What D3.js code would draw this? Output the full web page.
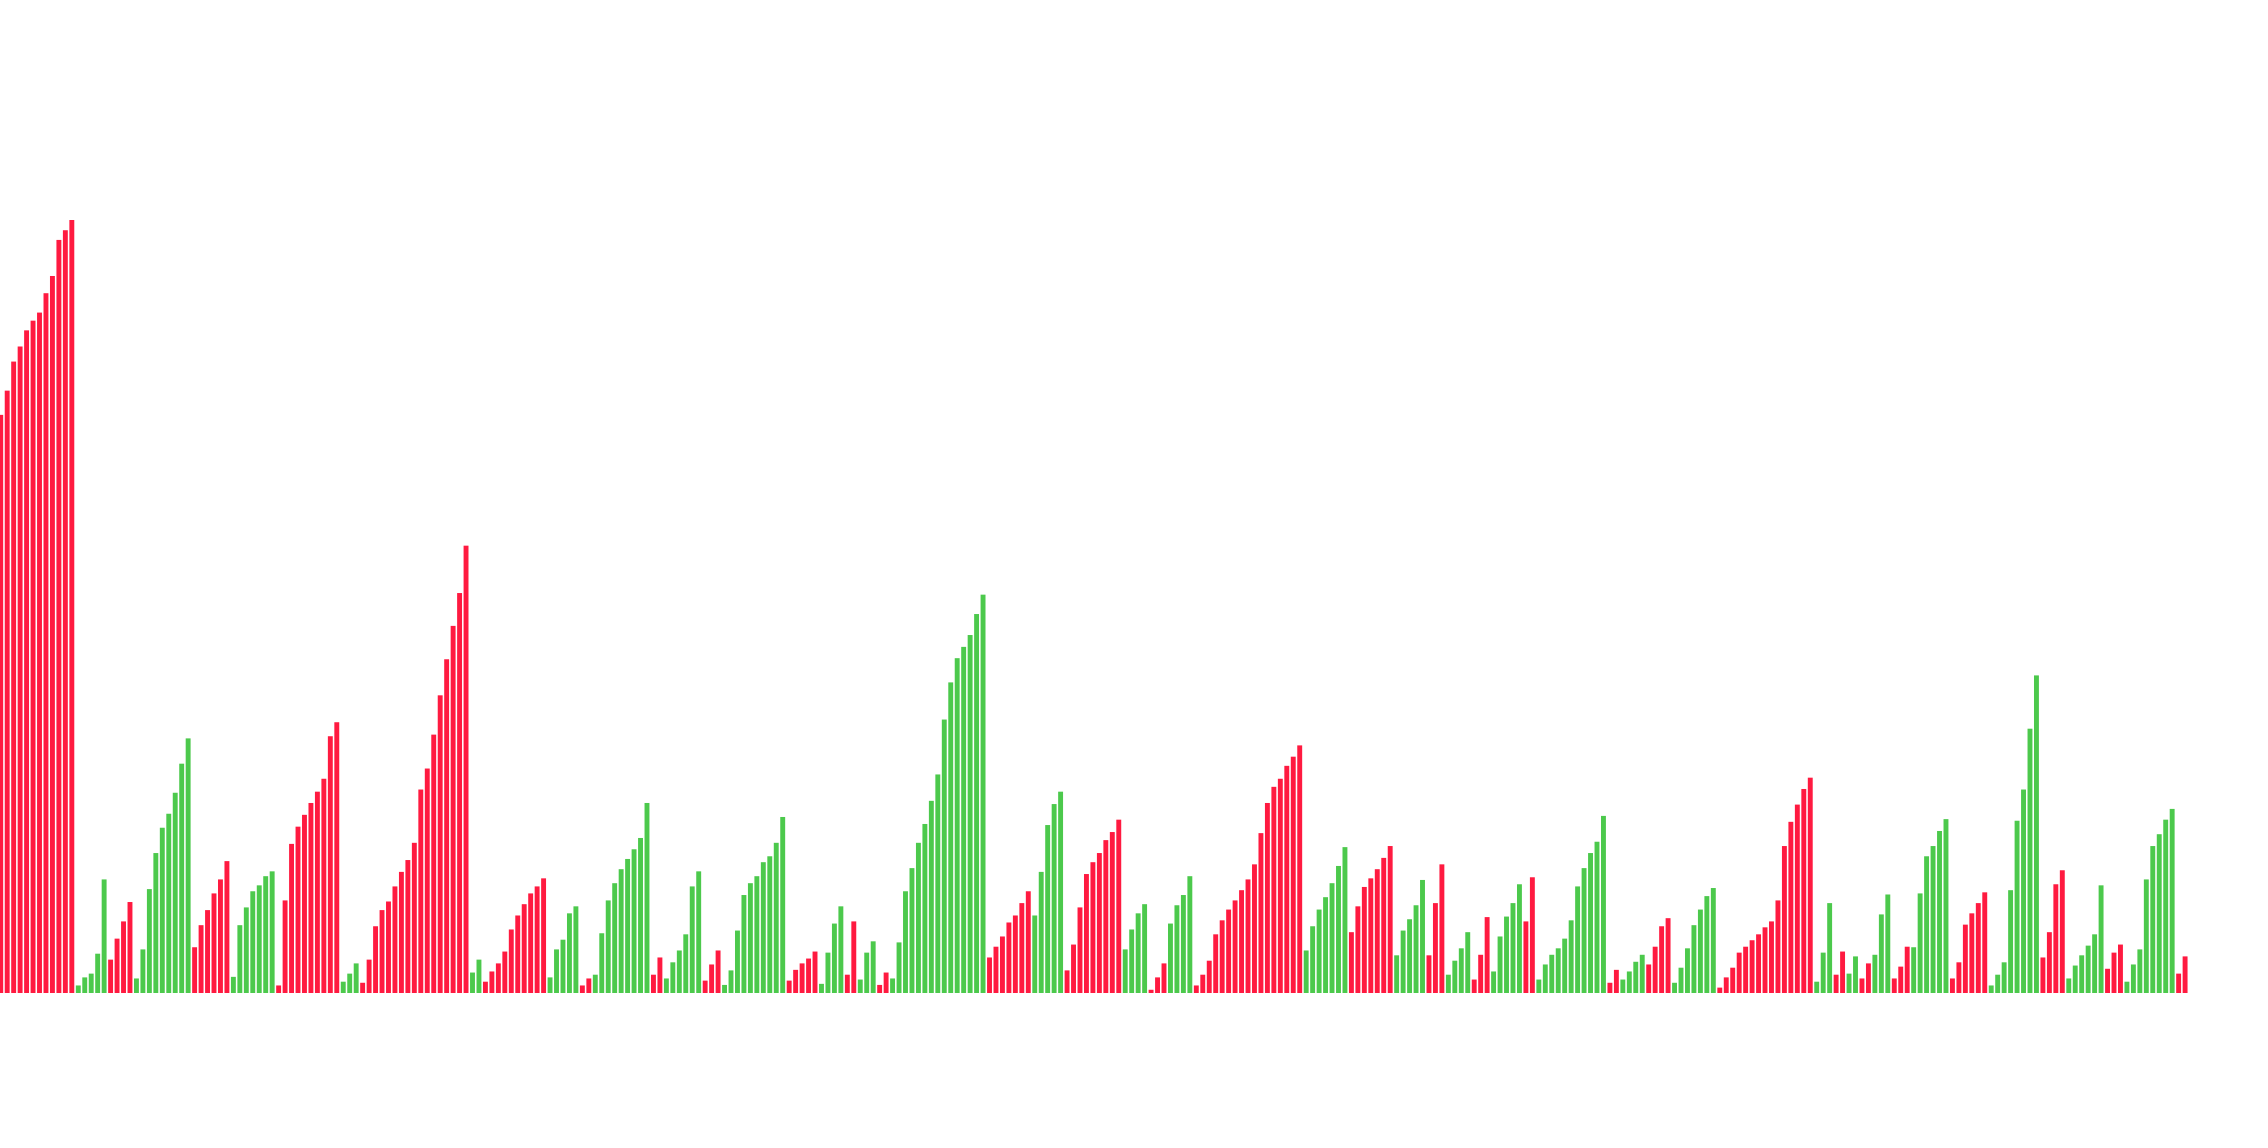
<!DOCTYPE html>
<html>
<head>
<meta charset="utf-8">
<script src="https://cdn.jsdelivr.net/npm/d3@7/dist/d3.min.js"></script>
<style>
  html, body { margin: 0; padding: 0; background: #ffffff; }
  svg { display: block; }
</style>
</head>
<body>
<svg id="chart" width="2268" height="1148"></svg>
<script>
// ---- data (bar heights, arbitrary units) ----
const values = [
  1074,1119,1173,1201,1231,1249,1264,1300,1332,1399,
  1417,1436,14,29,36,73,211,62,101,133,
  169,27,81,193,260,307,333,372,426,473,
  85,126,154,185,211,245,30,126,159,189,
  200,217,226,14,172,277,309,331,353,374,
  398,477,503,21,36,55,19,62,124,154,
  170,198,225,247,279,378,417,480,553,620,
  682,743,831,38,62,21,40,55,77,118,
  144,165,185,198,213,29,81,99,148,161,
  14,27,34,111,172,204,230,249,267,288,
  353,34,66,27,57,79,109,198,226,23,
  53,79,15,42,116,182,204,217,243,254,
  279,327,23,43,55,64,77,17,75,129,
  161,34,133,25,75,96,15,38,27,94,
  189,232,279,314,357,406,508,577,622,643,
  665,704,740,66,86,105,131,144,167,189,
  144,225,312,351,374,42,90,159,221,243,
  260,284,299,322,81,118,148,165,6,29,
  55,129,163,182,217,14,34,60,109,135,
  155,172,191,211,239,297,353,383,398,422,
  439,460,79,124,155,178,204,236,271,113,
  161,197,213,230,251,273,70,116,137,163,
  210,70,167,239,34,60,83,113,25,71,
  141,40,105,142,167,202,133,215,25,53,
  71,83,101,135,198,232,260,281,329,19,
  43,25,40,58,71,53,86,124,139,19,
  47,83,126,155,180,195,10,29,47,75,
  86,98,109,122,133,172,273,318,350,379,
  400,21,75,167,34,77,36,68,27,55,
  71,146,183,27,49,86,85,185,254,273,
  301,323,27,57,127,148,167,187,14,34,
  57,191,320,378,491,590,66,113,202,228,
  27,51,70,88,109,200,45,75,90,21,
  53,81,211,273,295,322,342,36,68
];

// direction of each bar: U = up (green), D = down (red), ten per row
const directionRows = [
  "DDDDDDDDDD","DDUUUUUDDD","DUUUUUUUUU","DDDDDDUUUU","UUUDDDDDDD",
  "DDDUUUDDDD","DDDDDDDDDD","DDDUUDDDDD","DDDDDUUUUU","DDUUUUUUUU",
  "UDDUUUUUUD","DDUUUUUUUU","UUDDDDDUUU","UDDUUUDDUU","UUUUUUUUUU",
  "UUUDDDDDDD","UUUUUDDDDD","DDDDUUUUDD","DUUUUDDDDD","DDDDDDDDDD",
  "DDUUUUUUUD","DDDDDDUUUU","UDDDUUUUDD","DUUUUUDDUU","UUUUUUUUUD",
  "DUUUUDDDDU","UUUUUUDDDD","DDDDDDDDDD","DUUUDDUUDD","UUUDDDUUUU",
  "UUDDDDDDUU","UUUUUUDDDD","UUUUUUDDDU","UUUUUUUDD"
];
const direction = directionRows.join("").split("");

const colors = { U: "#4cc94c", D: "#ff1a40" };

// ---- drawing ----
const svg = d3.select("#chart");
const n = values.length;
const step = 6.4626;
const x0 = -2.5;

const x = d3.scaleBand()
  .domain(d3.range(n))
  .range([x0, x0 + step * n])
  .paddingInner(0.24)
  .paddingOuter(0.12);

const y = d3.scaleLinear()
  .domain([0, 1436])
  .range([993, 220]);

svg.append("g")
  .selectAll("rect")
  .data(values)
  .join("rect")
  .attr("x", (d, i) => x(i))
  .attr("width", x.bandwidth())
  .attr("y", d => y(d))
  .attr("height", d => y(0) - y(d))
  .attr("fill", (d, i) => colors[direction[i]]);
</script>
</body>
</html>
